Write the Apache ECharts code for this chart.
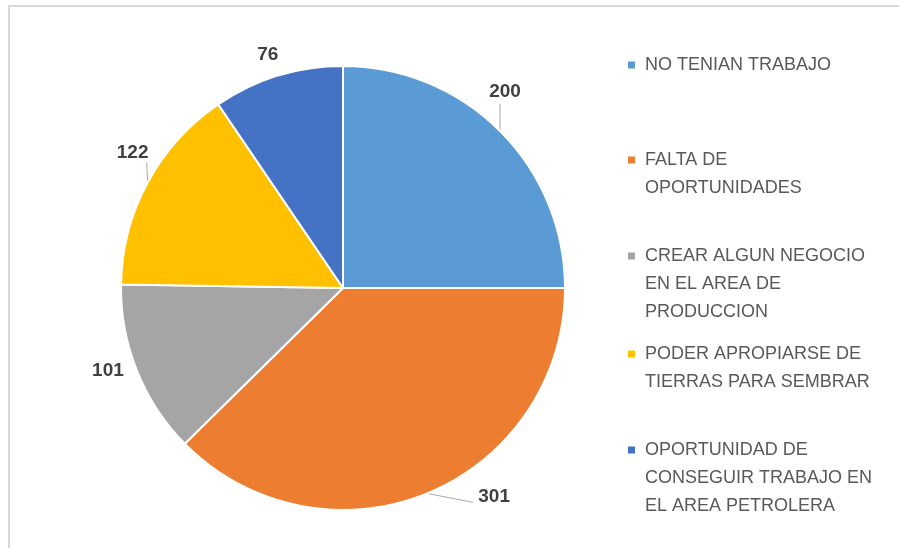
<!DOCTYPE html>
<html>
<head>
<meta charset="utf-8">
<script src="https://cdn.jsdelivr.net/npm/echarts@6/dist/echarts.min.js"></script>
<style>
  html, body { margin: 0; padding: 0; background: #fff; }
  #chart { width: 899px; height: 548px; }
</style>
</head>
<body>
<div id="chart"></div>
<script>
// data
const categories = [
    'NO TENIAN TRABAJO',
    'FALTA DE OPORTUNIDADES',
    'CREAR ALGUN NEGOCIO EN EL AREA DE PRODUCCION',
    'PODER APROPIARSE DE TIERRAS PARA SEMBRAR',
    'OPORTUNIDAD DE CONSEGUIR TRABAJO EN EL AREA PETROLERA'
];
const values = [200, 301, 101, 122, 76];
const legendLines = [
    'NO TENIAN TRABAJO',
    'FALTA DE\nOPORTUNIDADES',
    'CREAR ALGUN NEGOCIO\nEN EL AREA DE\nPRODUCCION',
    'PODER APROPIARSE DE\nTIERRAS PARA SEMBRAR',
    'OPORTUNIDAD DE\nCONSEGUIR TRABAJO EN\nEL AREA PETROLERA'
];

const colors = ['#5b9bd5', '#ed7d31', '#a5a5a5', '#ffc000', '#4472c4'];

// label placement relative to the slice edge point: [dx, dy, lineDx, lineDy, showLine]
const labelNudge = [
    [5, -39, 0, -27, true],
    [67, 3, 46, 9, true],
    [-29, 0, 0, 0, false],
    [-15, -30, -1, -20, true],
    [-10, -21, 0, 0, false]
];

const lineH = 28;
const firstLineY = [65, 160, 256, 354, 450];

const chart = echarts.init(document.getElementById('chart'));

// legend icon sits on the first line: pad the text with empty lines above so
// the (vertically centred) block puts line one level with the icon
const legends = categories.map((name, i) => {
    const n = legendLines[i].split('\n').length;
    const text = '\n'.repeat(n - 1) + legendLines[i];
    return {
        orient: 'vertical',
        left: 626,
        top: firstLineY[i] - (2 * n - 1) * lineH / 2,
        padding: 0,
        itemWidth: 9,
        itemHeight: 9,
        icon: 'rect',
        selectedMode: false,
        data: [name],
        formatter: () => text,
        textStyle: {
            fontFamily: 'Liberation Sans',
            fontSize: 18,
            color: '#595959',
            lineHeight: lineH,
            padding: [0, 0, 0, 4]
        }
    };
});

chart.setOption({
    animation: false,
    color: colors,
    legend: legends,
    graphic: [
        {
            type: 'polyline',
            shape: { points: [[9, 548], [9, 6], [899, 6]] },
            style: { stroke: '#d9d9d9', lineWidth: 2, fill: null }
        }
    ],
    series: [
        {
            type: 'pie',
            center: [343, 288],
            radius: 222,
            startAngle: 90,
            clockwise: true,
            itemStyle: { borderColor: '#fff', borderWidth: 2 },
            label: {
                show: true,
                position: 'outside',
                formatter: '{c}',
                fontFamily: 'Liberation Sans',
                fontSize: 19,
                fontWeight: 'bold',
                color: '#404040'
            },
            labelLine: {
                show: true,
                length: 10,
                length2: 0,
                lineStyle: { color: '#a6a6a6', width: 1 }
            },
            labelLayout: function (p) {
                const pts = p.labelLinePoints;
                if (!pts) return {};
                const s = pts[0];
                const nd = labelNudge[p.dataIndex];
                const end = [s[0] + nd[2], s[1] + nd[3]];
                return {
                    x: s[0] + nd[0],
                    y: s[1] + nd[1],
                    align: 'center',
                    verticalAlign: 'middle',
                    labelLinePoints: nd[4] ? [s, end] : [s, s]
                };
            },
            data: categories.map((name, i) => ({
                name: name,
                value: values[i],
                labelLine: labelNudge[i][4] ? undefined : { show: true, lineStyle: { opacity: 0 } }
            }))
        }
    ]
});
</script>
</body>
</html>
